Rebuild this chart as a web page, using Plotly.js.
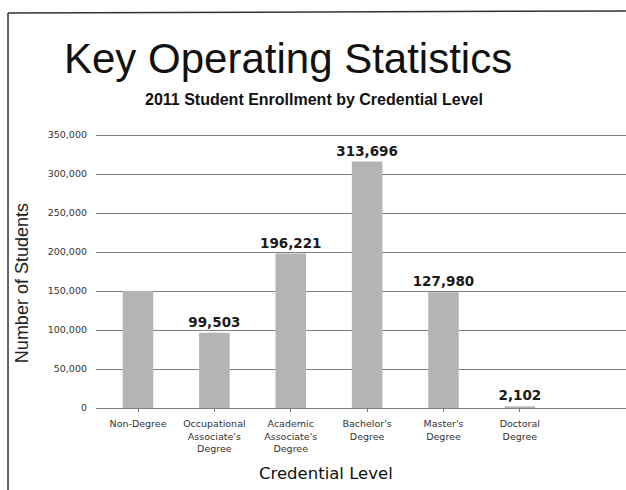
<!DOCTYPE html>
<html>
<head>
<meta charset="utf-8">
<script src="https://cdn.plot.ly/plotly-3.0.1.min.js"></script>
<style>
html,body{margin:0;padding:0;background:#fff;}
#chart{width:626px;height:490px;}
</style>
</head>
<body>
<div id="chart"></div>
<script>
// Data
const categories = ["Non-Degree", "Occupational<br>Associate's<br>Degree", "Academic<br>Associate's<br>Degree", "Bachelor's<br>Degree", "Master's<br>Degree", "Doctoral<br>Degree"];
const barHeights = [150000, 96500, 198000, 316000, 148500, 2102];
const valueLabels = ["", "99,503", "196,221", "313,696", "127,980", "2,102"];
const yTickVals = [0, 50000, 100000, 150000, 200000, 250000, 300000, 350000];
const yTickText = ["0", "50,000", "100,000", "150,000", "200,000", "250,000", "300,000", "350,000"];
const mainTitle = "Key Operating Statistics";
const subTitle = "2011 Student Enrollment by Credential Level";
const xTitle = "Credential Level";
const yTitle = "Number of Students";

const idx = categories.map((c, i) => i);

const trace = {
  type: 'bar',
  x: idx,
  y: barHeights,
  width: 0.4,
  text: valueLabels,
  textposition: 'outside',
  constraintext: 'none',
  cliponaxis: false,
  textfont: {family: 'DejaVu Sans', size: 13.5, color: '#1a1a1a', weight: 'bold'},
  marker: {color: '#b4b4b4', line: {width: 0}},
  hoverinfo: 'skip'
};

const layout = {
  width: 626,
  height: 490,
  margin: {l: 96, r: 0, t: 128, b: 82},
  paper_bgcolor: '#ffffff',
  plot_bgcolor: '#ffffff',
  showlegend: false,
  font: {family: 'DejaVu Sans', color: '#222'},
  xaxis: {
    range: [-0.55, 6.39],
    tickmode: 'array',
    tickvals: idx,
    ticktext: categories,
    tickson: 'boundaries',
    ticks: 'outside',
    ticklen: 3,
    tickcolor: '#777',
    ticklabelstandoff: 4,
    tickfont: {family: 'DejaVu Sans', size: 9.5, color: '#333'},
    showgrid: false,
    zeroline: false,
    showline: false,
    fixedrange: true
  },
  yaxis: {
    range: [0, 359000],
    tickmode: 'array',
    tickvals: yTickVals,
    ticktext: yTickText,
    tickfont: {family: 'DejaVu Sans', size: 9.5, color: '#333'},
    showgrid: true,
    gridcolor: '#808080',
    gridwidth: 1,
    zeroline: true,
    zerolinecolor: '#808080',
    zerolinewidth: 1,
    ticks: '',
    ticklabelstandoff: 8,
    showline: false,
    fixedrange: true
  },
  annotations: [
    {text: mainTitle, xref: 'paper', yref: 'paper', x: -0.064, y: 1.25, xanchor: 'left', yanchor: 'middle', showarrow: false,
     font: {family: 'Liberation Sans', size: 42, color: '#111'}},
    {text: '<b>' + subTitle + '</b>', xref: 'paper', yref: 'paper', x: 0.412, y: 1.1, xanchor: 'center', yanchor: 'middle', showarrow: false,
     font: {family: 'Liberation Sans', size: 16, color: '#111'}},
    {text: xTitle, xref: 'paper', yref: 'paper', x: 0.434, y: -0.235, xanchor: 'center', yanchor: 'middle', showarrow: false,
     font: {family: 'DejaVu Sans', size: 16.5, color: '#111'}},
    {text: yTitle, xref: 'paper', yref: 'paper', x: -0.1396, y: 0.446, xanchor: 'center', yanchor: 'middle', showarrow: false, textangle: -90,
     font: {family: 'Liberation Sans', size: 18, color: '#222'}}
  ],
  shapes: [
    {type: 'line', xref: 'paper', yref: 'paper', x0: -0.166, x1: 1.0, y0: 1.411, y1: 1.418, line: {color: '#333', width: 1.5}},
    {type: 'line', xref: 'paper', yref: 'paper', x0: -0.166, x1: -0.166, y0: 1.411, y1: -0.3, line: {color: '#333', width: 1.5}}
  ]
};

Plotly.newPlot('chart', [trace], layout, {displayModeBar: false, staticPlot: true});
</script>
</body>
</html>
